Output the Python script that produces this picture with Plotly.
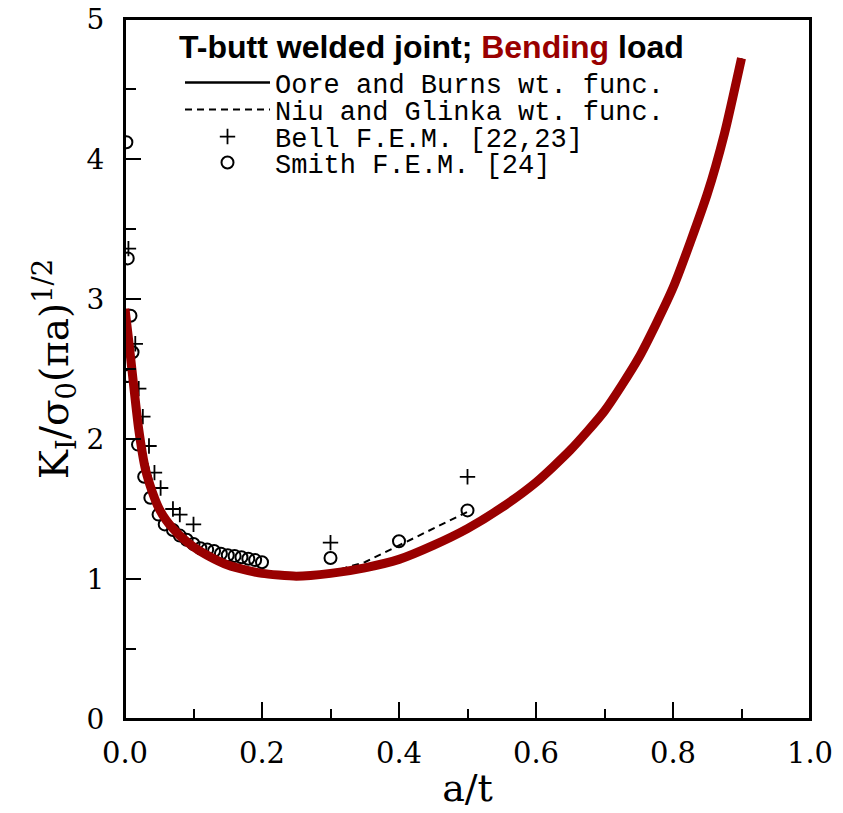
import plotly.graph_objects as go

# Oore and Burns weight function (solid; also highlighted in red)
oore_a = [0.0, 0.005, 0.01, 0.02, 0.03, 0.04, 0.05, 0.06, 0.07, 0.08, 0.10, 0.12,
          0.15, 0.18, 0.20, 0.25, 0.30, 0.35, 0.40, 0.45, 0.50, 0.55, 0.60, 0.65,
          0.70, 0.75, 0.80, 0.85, 0.875, 0.90]
oore_k = [2.93, 2.72, 2.50, 2.07, 1.78, 1.62, 1.50, 1.42, 1.36, 1.31, 1.23, 1.17,
          1.10, 1.06, 1.04, 1.02, 1.04, 1.08, 1.14, 1.24, 1.36, 1.51, 1.69, 1.92,
          2.20, 2.58, 3.08, 3.75, 4.18, 4.72]

# Niu and Glinka weight function (dashed)
niu_a = [0.0, 0.02, 0.05, 0.10, 0.15, 0.20, 0.25, 0.30, 0.35, 0.40, 0.45, 0.50]
niu_k = [2.93, 2.07, 1.50, 1.23, 1.10, 1.04, 1.02, 1.05, 1.12, 1.24, 1.36, 1.48]

# Bell F.E.M. [22,23]
bell_a = [0.005, 0.015, 0.020, 0.026, 0.035, 0.043, 0.052, 0.070, 0.080, 0.100, 0.30, 0.50]
bell_k = [3.36, 2.68, 2.36, 2.16, 1.95, 1.76, 1.65, 1.50, 1.46, 1.39, 1.26, 1.73]

# Smith F.E.M. [24]
smith_a = [0.002, 0.004, 0.004, 0.008, 0.011, 0.019, 0.028, 0.037, 0.049, 0.058,
           0.07, 0.08, 0.09, 0.10, 0.11, 0.12, 0.13, 0.14, 0.15, 0.16, 0.17, 0.18,
           0.19, 0.20, 0.30, 0.40, 0.50]
smith_k = [4.12, 3.29, 2.45, 2.88, 2.62, 1.96, 1.73, 1.58, 1.46, 1.39,
           1.35, 1.31, 1.28, 1.25, 1.22, 1.21, 1.20, 1.18, 1.17, 1.165, 1.155, 1.145,
           1.135, 1.12, 1.15, 1.27, 1.49]

x_ticks = [0.0, 0.2, 0.4, 0.6, 0.8, 1.0]
y_ticks = [0, 1, 2, 3, 4, 5]

RED = "#990000"
SERIF = "DejaVu Serif"
MONO = "Liberation Mono"

fig = go.Figure()
fig.add_trace(go.Scatter(x=oore_a, y=oore_k, mode="lines", name="Oore and Burns wt. func.",
                         line=dict(color="black", width=2.5), legend="legend"))
fig.add_trace(go.Scatter(x=niu_a, y=niu_k, mode="lines", name="Niu and Glinka wt. func.",
                         line=dict(color="black", width=2, dash="7px,5px"), legend="legend2"))
fig.add_trace(go.Scatter(x=bell_a, y=bell_k, mode="markers", name="Bell F.E.M. [22,23]",
                         marker=dict(symbol="cross-thin", size=11, color="black",
                                     line=dict(color="black", width=1.8)), legend="legend3"))
fig.add_trace(go.Scatter(x=smith_a, y=smith_k, mode="markers", name="Smith F.E.M. [24]",
                         marker=dict(symbol="circle-open", size=12, color="black",
                                     line=dict(color="black", width=2)), legend="legend4"))
fig.add_trace(go.Scatter(x=oore_a, y=oore_k, mode="lines", showlegend=False,
                         line=dict(color=RED, width=9, shape="spline", smoothing=0.6)))

# the page body adds an 8px offset; the figure is sized so the plot area lands
# at x 125..810, y 19..719 in the window
OFF = 8
W, H = 835, 805
L, T = 125 - OFF, 19 - OFF
pw, ph = 685, 700
R, B = W - L - pw, H - T - ph


def px_to_paper(xp, yp):
    return (xp - OFF - L) / pw, (T + ph - (yp - OFF)) / ph


leg_common = dict(bgcolor="rgba(0,0,0,0)", borderwidth=0, xanchor="left", yanchor="middle",
                  itemwidth=85, font=dict(family=MONO, size=27, color="black"))
rows = [83, 110, 137, 163]
legends = {}
for i, yp in enumerate(rows):
    lx, ly = px_to_paper(180, yp)
    key = "legend" if i == 0 else f"legend{i + 1}"
    legends[key] = dict(x=lx, y=ly, **leg_common)

tx, ty = px_to_paper(177, 47)
fig.update_layout(
    width=W, height=H,
    margin=dict(l=L, r=R, t=T, b=B),
    paper_bgcolor="white", plot_bgcolor="white",
    showlegend=True,
    **legends,
    annotations=[dict(
        xref="paper", yref="paper", x=tx, y=ty, xanchor="left", yanchor="middle",
        showarrow=False,
        text="<b>T-butt welded joint; <span style='color:%s'>Bending</span> load</b>" % RED,
        font=dict(family="Liberation Sans", size=32, color="black"))],
    shapes=[dict(type="rect", xref="paper", yref="paper", x0=0, x1=1, y0=0, y1=1,
                 line=dict(color="black", width=2), fillcolor="rgba(0,0,0,0)", layer="above")],
)

fig.update_xaxes(
    range=[0, 1], tickvals=x_ticks, ticktext=["%.1f" % v for v in x_ticks],
    showgrid=False, zeroline=False, showline=True, linecolor="black", linewidth=2,
    mirror=True, ticks="inside", ticklen=17, tickwidth=2, tickcolor="black", automargin=False,
    minor=dict(dtick=0.1, ticks="inside", ticklen=10, tickwidth=2, tickcolor="black", showgrid=False),
    tickfont=dict(family=SERIF, size=29, color="black"), ticklabelstandoff=7,
    ticklabeloverflow="allow",
    title=dict(text="a/t", font=dict(family=SERIF, size=38, color="black"), standoff=6),
)
fig.update_yaxes(
    range=[0, 5], tickvals=y_ticks, ticktext=[str(v) for v in y_ticks],
    showgrid=False, zeroline=False, showline=True, linecolor="black", linewidth=2,
    mirror=True, ticks="inside", ticklen=16, tickwidth=2, tickcolor="black", automargin=False,
    minor=dict(dtick=0.5, ticks="inside", ticklen=11, tickwidth=2, tickcolor="black", showgrid=False),
    tickfont=dict(family=SERIF, size=28, color="black"), ticklabelstandoff=13,
    ticklabeloverflow="allow",
    title=dict(text="K<sub>I</sub>/σ<sub>0</sub>(πa)<sup>1/2</sup>",
               font=dict(family=SERIF, size=39, color="black"), standoff=6),
)

fig.write_html("out.html")
